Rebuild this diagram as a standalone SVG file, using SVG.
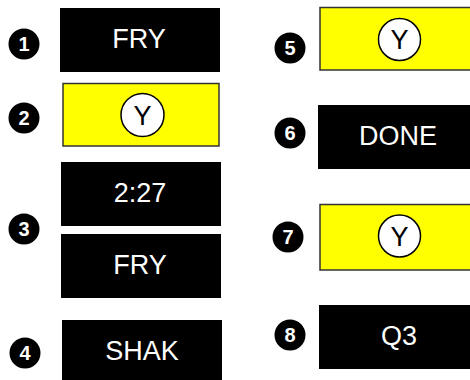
<svg xmlns="http://www.w3.org/2000/svg" width="470" height="380" viewBox="0 0 470 380">
<style>
.blk{fill:#000}
.yel{fill:#ffff00;stroke:#333;stroke-width:1.5}
.wt{fill:#fff;font-family:"Liberation Sans",Arial,sans-serif;font-size:27px;text-anchor:middle}
.yc{fill:#fff;stroke:#000;stroke-width:1.5}
.yt{fill:#000;font-family:"Liberation Sans",Arial,sans-serif;font-size:27px;text-anchor:middle}
.nc{fill:#000}
.nt{fill:#fff;font-family:"Liberation Sans",Arial,sans-serif;font-weight:bold;font-size:20px;text-anchor:middle}
</style>
<rect width="470" height="380" fill="#fff"/>
<g id="connectors"/>
<g id="n1">
<circle class="nc" cx="24" cy="44" r="15.5"/><text class="nt" x="24" y="51">1</text>
<rect class="blk" x="60" y="8" width="160" height="64"/><text class="wt" x="139" y="48">FRY</text>
</g>
<g id="n2">
<circle class="nc" cx="24" cy="118" r="15.5"/><text class="nt" x="24" y="125">2</text>
<rect class="yel" x="63" y="83.5" width="156" height="62.5"/>
<circle class="yc" cx="142.5" cy="115" r="21.5"/><text class="yt" x="142.5" y="124.5">Y</text>
</g>
<g id="n3">
<circle class="nc" cx="24" cy="229" r="15.5"/><text class="nt" x="24" y="236">3</text>
<rect class="blk" x="61" y="162" width="160" height="64"/><text class="wt" x="140" y="202">2:27</text>
<rect class="blk" x="61" y="234" width="160" height="64"/><text class="wt" x="140" y="274">FRY</text>
</g>
<g id="n4">
<circle class="nc" cx="25" cy="353" r="15.5"/><text class="nt" x="25" y="360">4</text>
<rect class="blk" x="62" y="320" width="160" height="64"/><text class="wt" x="142" y="360">SHAK</text>
</g>
<g id="n5">
<circle class="nc" cx="290" cy="48" r="15.5"/><text class="nt" x="290" y="55">5</text>
<rect class="yel" x="320" y="7.5" width="160" height="62.5"/>
<circle class="yc" cx="399.5" cy="39.5" r="21"/><text class="yt" x="399.5" y="49">Y</text>
</g>
<g id="n6">
<circle class="nc" cx="290" cy="133" r="15.5"/><text class="nt" x="290" y="140">6</text>
<rect class="blk" x="318" y="105" width="160" height="64"/><text class="wt" x="398" y="145">DONE</text>
</g>
<g id="n7">
<circle class="nc" cx="288" cy="237" r="15.5"/><text class="nt" x="288" y="244">7</text>
<rect class="yel" x="320" y="204.5" width="160" height="65.5"/>
<circle class="yc" cx="399.5" cy="236" r="21"/><text class="yt" x="399.5" y="245.5">Y</text>
</g>
<g id="n8">
<circle class="nc" cx="290" cy="335" r="15.5"/><text class="nt" x="290" y="342">8</text>
<rect class="blk" x="319" y="305" width="160" height="64"/><text class="wt" x="399" y="345">Q3</text>
</g>
</svg>
